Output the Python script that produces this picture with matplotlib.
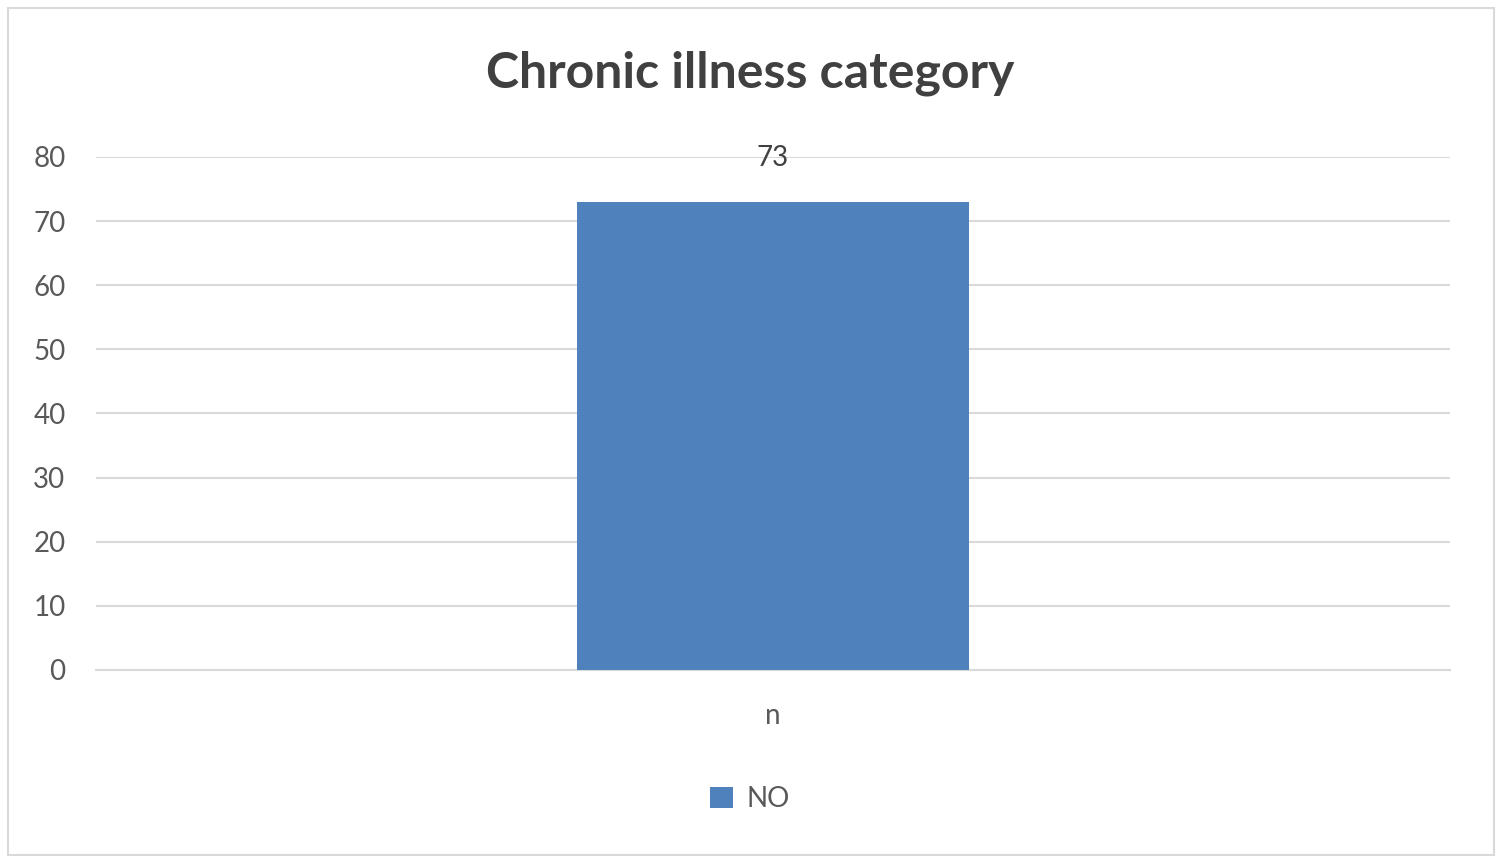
import matplotlib
matplotlib.use("Agg")
import matplotlib.pyplot as plt
from matplotlib.patches import Rectangle

categories = ["n"]
values = [73]
series_name = "NO"
yticks = [0, 10, 20, 30, 40, 50, 60, 70, 80]
title = "Chronic illness category"

plt.rcParams['font.family'] = ['Lato', 'DejaVu Sans']

fig = plt.figure(figsize=(15, 8.6), dpi=100)
fig.patch.set_facecolor("white")
fig.add_artist(Rectangle((8/1500, 5/860), 1486/1500, 847/860, transform=fig.transFigure,
                         fill=False, edgecolor="#D9D9D9", linewidth=1.5))

ax = fig.add_axes([96/1500, 190/860, 1354/1500, 513/860])
bars = ax.bar(categories, values, width=0.2895, color="#4F81BD", label=series_name, zorder=3)
ax.set_xlim(-0.5, 0.5)
ax.set_ylim(0, 80)
ax.set_yticks(yticks)
ax.yaxis.grid(True, color="#D9D9D9", linewidth=1.5, zorder=0)
ax.set_axisbelow(True)
for s in ["top", "right", "left"]:
    ax.spines[s].set_visible(False)
ax.spines["bottom"].set_color("#D9D9D9")
ax.spines["bottom"].set_linewidth(1.5)
ax.tick_params(axis="both", length=0, labelsize=20, labelcolor="#595959")
ax.tick_params(axis="y", pad=22)
ax.tick_params(axis="x", pad=24)

for b, v in zip(bars, values):
    ax.annotate(str(v), (b.get_x() + b.get_width() / 2, v), xytext=(0, 22),
                textcoords="offset points", ha="center", va="bottom",
                fontsize=20, color="#404040")

fig.text(0.5, 1 - 73/860, title, ha="center", va="center", fontsize=36,
         fontweight="bold", color="#404040")

fig.legend(handles=[bars], labels=[series_name], loc="center", bbox_to_anchor=(0.5, 1 - 799/860),
           frameon=False, fontsize=20, labelcolor="#595959", handlelength=0.8, handleheight=0.8,
           handletextpad=0.5)

fig.savefig("out.png", dpi=100)
